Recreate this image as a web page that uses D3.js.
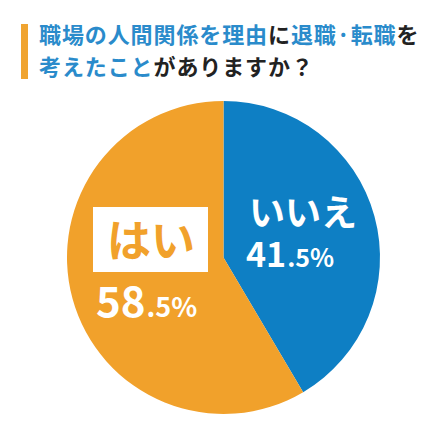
<!DOCTYPE html>
<html><head><meta charset="utf-8">
<script src="https://cdn.jsdelivr.net/npm/d3@7"></script>
<style>body{margin:0;background:#fff}svg{display:block}text{font-family:"Noto Sans CJK JP","Noto Sans",sans-serif;font-weight:700}</style>
</head><body>
<script>
const categories = ["いいえ", "はい"];
const values = [41.5, 58.5];
const intParts = ["41", "58"];
const decParts = [".5%", ".5%"];
const titleLine1 = [["職場の人間関係を理由", "blue"], ["に", "dark"], ["退職·転職", "blue"], ["を", "dark"]];
const titleLine2 = [["考えたこと", "blue"], ["がありますか？", "dark"]];

const W = 445, H = 442;
const colors = {blue: "#0e7fc4", orange: "#f1a12b", tblue: "#2a8bcb", dark: "#222222"};
const svg = d3.select("body").append("svg").attr("width", W).attr("height", H);

// title bar
svg.append("rect").attr("x", 21).attr("y", 24).attr("width", 7).attr("height", 55).attr("fill", "#f0a430");
function titleLine(parts, y) {
  const t = svg.append("text").attr("x", 39).attr("y", y).attr("font-size", 22).attr("letter-spacing", 0.9);
  parts.forEach(([s, c]) => t.append("tspan").text(s).attr("fill", c === "blue" ? colors.tblue : colors.dark));
}
titleLine(titleLine1, 43);
titleLine(titleLine2, 75);

const cx = 223.5, cy = 257.5, r = 156.5;
const pie = d3.pie().sort(null).value(d => d);
const arcs = pie(values);
const arc = d3.arc().innerRadius(0).outerRadius(r);
const sliceColor = d3.scaleOrdinal().domain(categories).range([colors.blue, colors.orange]);
const g = svg.append("g").attr("transform", `translate(${cx},${cy})`);
g.selectAll("path").data(arcs).join("path")
  .attr("d", arc).attr("fill", (d, i) => sliceColor(categories[i]));

// labels: いいえ (blue slice)
g.append("text").attr("x", 249 - cx).attr("y", 226 - cy).attr("font-size", 36).attr("fill", "#fff").text(categories[0]);
const t0 = g.append("text").attr("x", 246 - cx).attr("y", 267 - cy).attr("fill", "#fff");
t0.append("tspan").attr("font-size", 34).text(intParts[0]);
t0.append("tspan").attr("font-size", 25).attr("dx", 1).text(decParts[0]);

// はい (orange slice)
g.append("rect").attr("x", 93 - cx).attr("y", 207 - cy).attr("width", 115).attr("height", 65).attr("fill", "#fff");
g.append("text").attr("x", 151 - cx).attr("y", 257 - cy).attr("text-anchor", "middle").attr("font-size", 44)
  .attr("fill", colors.orange).text(categories[1]);
const t1 = g.append("text").attr("x", 96 - cx).attr("y", 317 - cy).attr("fill", "#fff");
t1.append("tspan").attr("font-size", 42).text(intParts[1]);
t1.append("tspan").attr("font-size", 27).attr("dx", 1).text(decParts[1]);
</script>
</body></html>
